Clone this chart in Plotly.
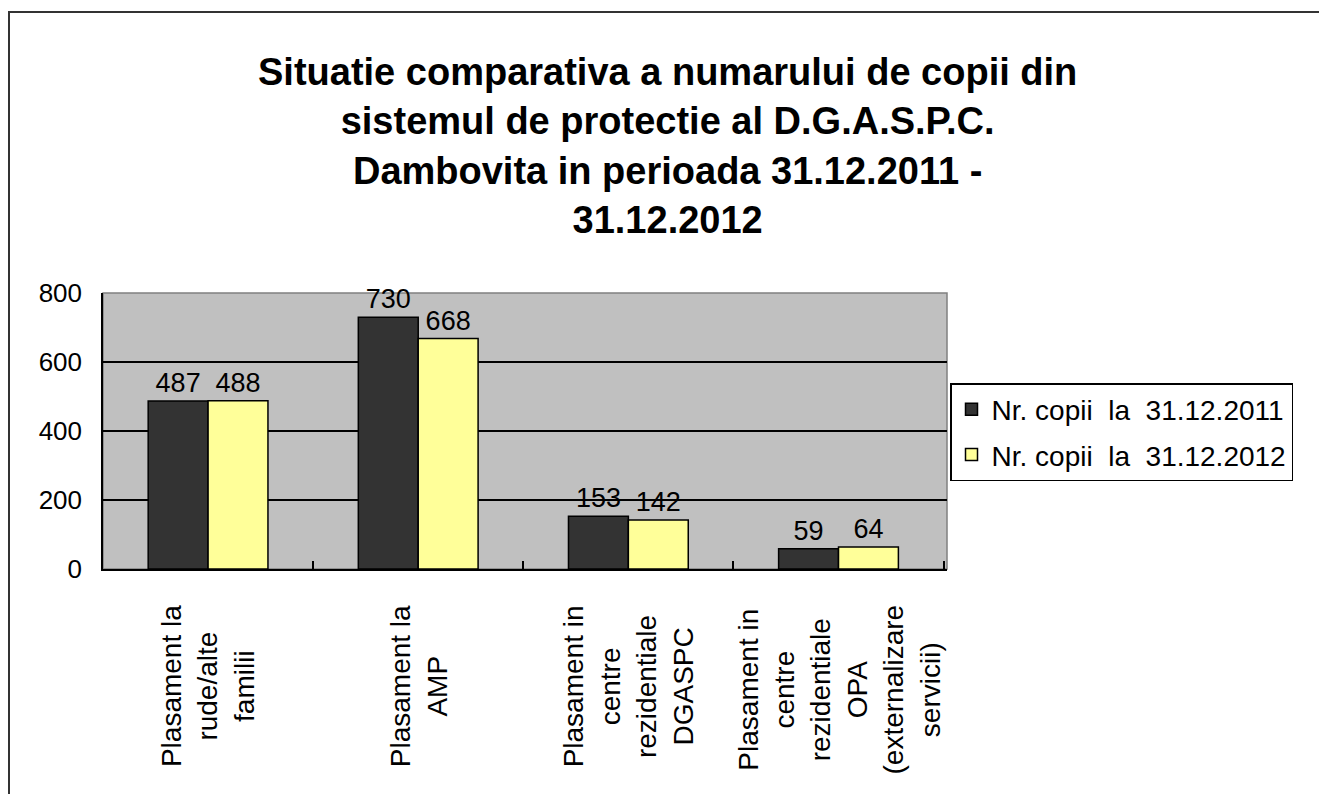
import plotly.graph_objects as go

# Data
categories = ["rude", "AMP", "DGASPC", "OPA"]
category_labels = [
    "Plasament la<br>rude/alte<br>familii",
    "Plasament la<br>AMP",
    "Plasament in<br>centre<br>rezidentiale<br>DGASPC",
    "Plasament in<br>centre<br>rezidentiale<br>OPA<br>(externalizare<br>servicii)",
]
series_names = ["Nr. copii  la  31.12.2011", "Nr. copii  la  31.12.2012"]
values_2011 = [487, 730, 153, 59]
values_2012 = [488, 668, 142, 64]

FONT = "Arial, Liberation Sans, sans-serif"

# plot area in figure pixels (page body adds an 8px offset)
L, T, R, B = 95, 285, 388, 233
PW, PH = 1327 - L - R, 794 - T - B

fig = go.Figure()
fig.add_trace(go.Bar(
    x=categories, y=values_2011, name=series_names[0], legendgroup="a",
    marker=dict(color="#333333", line=dict(color="black", width=1.5)),
    text=values_2011, textposition="outside", cliponaxis=False,
    textfont=dict(size=27, color="black"),
))
fig.add_trace(go.Bar(
    x=categories, y=values_2012, name=series_names[1], legendgroup="b",
    marker=dict(color="#FFFF99", line=dict(color="black", width=1.5)),
    text=values_2012, textposition="outside", cliponaxis=False,
    textfont=dict(size=27, color="black"),
))

# category labels, rotated and centred like the original
for cat, lab in zip(categories, category_labels):
    fig.add_annotation(
        x=cat, y=-(603 - 569) / PH, xref="x", yref="paper",
        text=lab, textangle=-90, showarrow=False,
        xanchor="center", yanchor="top", align="center",
        font=dict(size=28, color="black", family=FONT),
    )

# title
fig.add_annotation(
    x=(659 - L) / PW, y=(794 - B - 138) / PH, xref="paper", yref="paper",
    text="<b>Situatie comparativa a numarului de copii din<br>sistemul de protectie al D.G.A.S.P.C.<br>"
         "Dambovita in perioada 31.12.2011 -<br>31.12.2012</b>",
    showarrow=False, xanchor="center", yanchor="middle", align="center",
    font=dict(size=38, family=FONT, color="black"),
)

fig.update_layout(
    width=1327, height=794,
    margin=dict(l=L, r=R, t=T, b=B),
    paper_bgcolor="white",
    plot_bgcolor="#C0C0C0",
    font=dict(family=FONT, color="black"),
    barmode="group",
    bargap=0.43,
    bargroupgap=0,
    showlegend=True,
    legend=dict(
        x=(942 - L) / PW, y=(794 - B - 375) / PH, xanchor="left", yanchor="top",
        bordercolor="black", borderwidth=1.5, bgcolor="white",
        font=dict(size=28, color="black"),
        tracegroupgap=6, itemwidth=30,
    ),
    xaxis=dict(
        showticklabels=False, ticks="inside", tickson="boundaries",
        ticklen=8, tickcolor="black", tickwidth=1.5,
        showline=True, linecolor="black", linewidth=1.5,
    ),
    yaxis=dict(
        range=[0, 800], dtick=200, showgrid=True,
        gridcolor="black", gridwidth=1.5,
        ticks="inside", ticklen=9, tickcolor="black",
        showline=True, linecolor="black", linewidth=1.5,
        tickfont=dict(size=26, color="black"),
        ticklabelstandoff=14, zeroline=False,
    ),
    shapes=[
        # outer chart frame
        dict(type="rect", xref="paper", yref="paper",
             x0=(1 - L) / PW, x1=(1345 - L) / PW,
             y0=-(810 - (794 - B)) / PH, y1=1 + (T - 4) / PH,
             line=dict(color="#333333", width=2), layer="below"),
        # plot area border (top/right)
        dict(type="rect", xref="paper", yref="paper", x0=0, x1=1, y0=0, y1=1,
             line=dict(color="#808080", width=1.5), layer="below"),
    ],
)

fig.write_html("out.html")
